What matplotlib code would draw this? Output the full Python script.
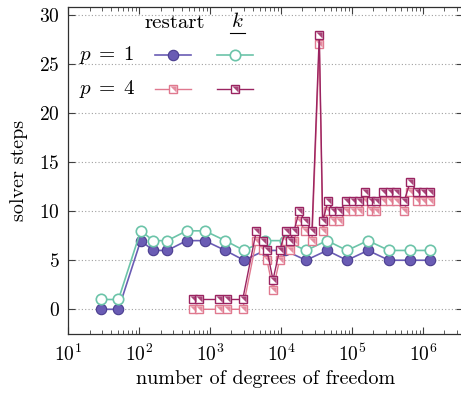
import matplotlib
matplotlib.use("Agg")
import matplotlib.pyplot as plt
from matplotlib.lines import Line2D
import numpy as np

plt.rcParams['font.family'] = 'serif'
plt.rcParams['font.serif'] = ['cmr10', 'DejaVu Serif']
plt.rcParams['mathtext.fontset'] = 'cm'
plt.rcParams['axes.formatter.use_mathtext'] = True

# ---- data ----
dofs_p1 = [29, 51, 105, 158, 249, 468, 839, 1638, 3006, 5945, 11380, 22530,
           44570, 85300, 168700, 333600, 659400, 1264000]
p1_restart = [0, 0, 7, 6, 6, 7, 7, 6, 5, 6, 6, 5, 6, 5, 6, 5, 5, 5]
p1_k = [1, 1, 8, 7, 7, 8, 8, 7, 6, 7, 7, 6, 7, 6, 7, 6, 6, 6]

dofs_p4 = [568, 691, 1349, 1749, 2884, 4487, 5520, 6350, 7710, 9530, 11690,
           13400, 15240, 18120, 21800, 27350, 34670, 38730, 46030, 54980,
           66830, 83390, 103300, 125100, 154100, 184100, 222300, 277300,
           340400, 422800, 543200, 666800, 820300, 1016000, 1247000]
p4_k = [1, 1, 1, 1, 1, 8, 7, 6, 3, 6, 8, 7, 8, 10, 9, 8, 28, 9, 11, 10, 10,
        11, 11, 11, 12, 11, 11, 12, 12, 12, 11, 13, 12, 12, 12]
p4_restart = [0, 0, 0, 0, 0, 7, 6, 5, 2, 5, 7, 6, 7, 9, 8, 7, 27, 8, 10, 9, 9,
              10, 10, 10, 11, 10, 10, 11, 11, 11, 10, 12, 11, 11, 11]

yticks = [0, 5, 10, 15, 20, 25, 30]

# ---- styles ----
c_purple = '#6a5cb4'
c_purple_edge = '#4a3d8f'
c_teal = '#6cc4a9'
c_pink = '#e0798f'
c_mag = '#9a2461'

W, H = 461, 393
fig = plt.figure(figsize=(W / 100, H / 100), dpi=100)
ax = fig.add_axes([68.3 / W, 1 - 334.3 / H, (462.5 - 68.3) / W, (334.3 - 6.7) / H])

ax.set_xscale('log')
ax.set_xlim(10, 10 ** 6.56)
ax.set_ylim(-2.55, 30.85)

tri = [(-0.75, 0.75), (0.75, 0.75), (0.75, -0.75), (-0.75, 0.75)]


def sq_series(x, y, color, z):
    ax.plot(x, y, color=color, lw=1.0, marker='s', ms=6, mfc='white',
            mec=color, mew=1.0, zorder=z)
    ax.plot(x, y, ls='none', marker=tri, ms=4.5, mfc=color, mec='none',
            alpha=0.85, zorder=z + 0.1)


ax.plot(dofs_p1, p1_restart, color=c_purple, lw=1.2, marker='o', ms=7.5,
        mfc=c_purple, mec=c_purple_edge, mew=0.8, zorder=3)
ax.plot(dofs_p1, p1_k, color=c_teal, lw=1.2, marker='o', ms=7.5,
        mfc='white', mec=c_teal, mew=1.2, zorder=3.5)
sq_series(dofs_p4, p4_restart, c_pink, 4)
sq_series(dofs_p4, p4_k, c_mag, 5)

ax.set_yticks(yticks)
ax.grid(axis='y', which='major', color='#a0a0a0', ls=(0, (1, 2)), lw=0.8)
ax.set_axisbelow(True)
ax.tick_params(which='both', direction='in', top=True, right=True,
               labelsize=14, color='#404040')
ax.tick_params(which='major', length=5, width=0.8)
ax.tick_params(which='minor', length=3, width=0.6)
ax.tick_params(axis='x', pad=7)
ax.tick_params(axis='y', pad=6)
ax.set_xticks([10, 100, 1e3, 1e4, 1e5, 1e6])
for s in ['left', 'bottom', 'top', 'right']:
    ax.spines[s].set_linewidth(0.9)
    ax.spines[s].set_color('#303030')

ax.set_xlabel('number of degrees of freedom', fontsize=14.5, labelpad=3)
ax.set_ylabel('solver steps', fontsize=14.5, labelpad=8)

# ---- custom table-like legend ----
def ax_pt(px, py):
    return ((px - 68.3) / (462.5 - 68.3), (334.3 - py) / (334.3 - 6.7))

fs = 15
ax.text(*ax_pt(175, 23), 'restart', ha='center', va='center', fontsize=fs,
        transform=ax.transAxes)
ax.text(*ax_pt(237, 21), r'$k$', ha='center', va='center',
        fontsize=fs, transform=ax.transAxes)
u0, u1 = ax_pt(230, 33), ax_pt(245, 33)
ax.add_line(Line2D([u0[0], u1[0]], [u0[1], u1[1]], transform=ax.transAxes,
                   color='black', lw=0.8))
ax.text(*ax_pt(79, 55), r'$p\;=\;1$', ha='left', va='center', fontsize=fs,
        transform=ax.transAxes)
ax.text(*ax_pt(79, 89), r'$p\;=\;4$', ha='left', va='center', fontsize=fs,
        transform=ax.transAxes)


def leg_line(x0, x1, y, **kw):
    a0 = ax_pt(x0, y)
    a1 = ax_pt(x1, y)
    ax.add_line(Line2D([a0[0], a1[0]], [a0[1], a1[1]], transform=ax.transAxes,
                       **kw))


leg_line(155, 191, 55, color=c_purple, lw=1.2)
ax.add_line(Line2D([ax_pt(173, 55)[0]], [ax_pt(173, 55)[1]], transform=ax.transAxes,
                   marker='o', ms=7.5, mfc=c_purple, mec=c_purple_edge, mew=0.8))
leg_line(217, 253, 55, color=c_teal, lw=1.2)
ax.add_line(Line2D([ax_pt(235, 55)[0]], [ax_pt(235, 55)[1]], transform=ax.transAxes,
                   marker='o', ms=7.5, mfc='white', mec=c_teal, mew=1.2))
for (x0, x1, col) in [(155, 191, c_pink), (217, 253, c_mag)]:
    leg_line(x0, x1, 89, color=col, lw=1.0)
    m = ax_pt((x0 + x1) / 2, 89)
    ax.add_line(Line2D([m[0]], [m[1]], transform=ax.transAxes, marker='s', ms=6,
                       mfc='white', mec=col, mew=1.0))
    ax.add_line(Line2D([m[0]], [m[1]], transform=ax.transAxes, marker=tri, ms=4.5,
                       mfc=col, mec='none', alpha=0.85))

fig.savefig('out.png', dpi=100)
